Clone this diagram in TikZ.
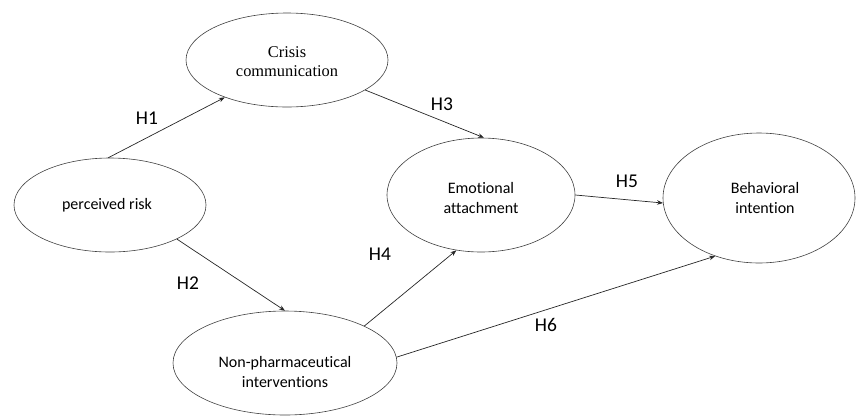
\documentclass[tikz,border=0pt]{standalone}
\usepackage{fontspec}
\setmainfont[Ligatures=NoCommon]{Carlito}
\newfontfamily\serifface{Liberation Serif}
\usetikzlibrary{shapes.geometric,arrows.meta}
\begin{document}
\begin{tikzpicture}[x=1pt,y=-1pt,
  construct/.style={ellipse,draw=black!75,line width=0.6pt,inner sep=0pt},
  ctext/.style={align=center,inner sep=0pt,font=\fontsize{16}{20}\selectfont},
  path/.style={draw=black!85,line width=0.7pt,-{Stealth[length=6pt,width=4.5pt]}},
  hlabel/.style={font=\fontsize{19.5}{22}\selectfont}]
\useasboundingbox (0,0) rectangle (856,416);
\node[construct,minimum width=202pt,minimum height=94pt] (cc) at (287,60) {};
\node[construct,minimum width=192pt,minimum height=94pt] (pr) at (110,205) {};
\node[construct,minimum width=224pt,minimum height=104pt] (np) at (285,363) {};
\node[construct,minimum width=188pt,minimum height=114pt] (ea) at (481,195) {};
\node[construct,minimum width=192pt,minimum height=130pt] (bi) at (759,198) {};
\node[ctext,font=\serifface\fontsize{16.4}{19}\selectfont] (cct) at (287,62) {Crisis\\communication};
\node[ctext] (prt) at (107,205) {perceived risk};
\node[ctext] (npt) at (285,372) {Non-pharmaceutical\\interventions};
\node[ctext] (eat) at (481,198) {Emotional\\attachment};
\node[ctext] (bit) at (765,198) {Behavioral\\intention};
\draw[path] (pr.92) -- (cc.211);
\draw[path] (pr.-27) -- (np.90);
\draw[path] (cc.-21.5) -- (ea.87);
\draw[path] (np.25) -- (ea.246);
\draw[path] (ea.0) -- (bi.183.5);
\draw[path] (np.3) -- (bi.233);
\node[hlabel] (h1) at (147,118) {H1};
\node[hlabel] (h2) at (188,283) {H2};
\node[hlabel] (h3) at (442,104) {H3};
\node[hlabel] (h4) at (380,254) {H4};
\node[hlabel] (h5) at (627,181) {H5};
\node[hlabel] (h6) at (546,325) {H6};
\end{tikzpicture}
\end{document}
